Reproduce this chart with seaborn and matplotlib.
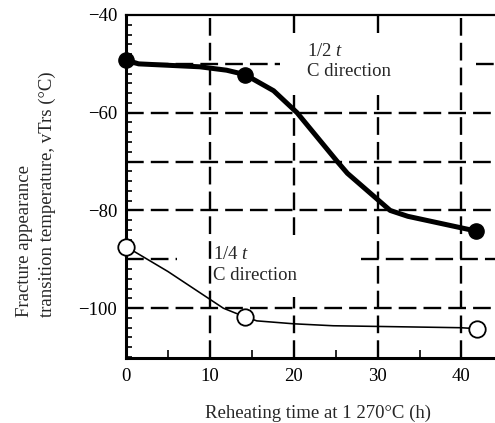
import numpy as np
import pandas as pd
import matplotlib
matplotlib.use("Agg")
import matplotlib.pyplot as plt
import seaborn as sns

# --- DATA ---
half_t_x = [0, 1.5, 8.8, 12.0, 14.2, 17.6, 20.4, 25.2, 26.4, 31.5, 33.6, 41.7]
half_t_y = [-49.2, -50.0, -50.6, -51.3, -52.2, -55.5, -60.0, -70.0, -72.4, -80.0, -81.2, -84.2]
half_t_mark_x = [0, 14.2, 41.7]
half_t_mark_y = [-49.2, -52.2, -84.2]

quarter_t_x = [0, 5.0, 11.6, 14.2, 15.6, 20.0, 24.7, 39.9, 41.8]
quarter_t_y = [-87.4, -92.5, -100.0, -101.8, -102.6, -103.2, -103.6, -104.0, -104.2]
quarter_t_mark_x = [0, 14.2, 41.8]
quarter_t_mark_y = [-87.4, -101.8, -104.2]

x_major = [0, 10, 20, 30, 40]
x_minor = [5, 15, 25, 35]
y_major = [-40, -60, -80, -100]

# dashed grid pieces (value, from, to) - gaps are left around the labels
h_grid = [(-50, 0, 18.4), (-50, 41.7, 44), (-60, 0, 44), (-70, 0, 44),
          (-80, 0, 44), (-90, 0, 6.1), (-90, 28, 44), (-100, 0, 44)]
v_grid = [(10, -110.2, -40), (20, -110.2, -97.8), (20, -85, -56.4),
          (20, -43.7, -40), (30, -110.2, -56.4), (30, -43.7, -40),
          (40, -110.2, -40)]

FS = 13.5
DASH = (0, (7.5, 3))

sns.set_theme(style="ticks")
plt.rcParams["font.family"] = ["Liberation Serif", "DejaVu Serif"]
plt.rcParams["mathtext.fontset"] = "custom"
plt.rcParams["mathtext.rm"] = "Liberation Serif"
plt.rcParams["mathtext.it"] = "Liberation Serif:italic"

fig = plt.figure(figsize=(4.95, 4.23), dpi=100)
fig.patch.set_facecolor("white")
ax = fig.add_axes([126 / 495, 1 - 358 / 423, 369 / 495, 343 / 423])
ax.set_facecolor("white")

# grid
for yv, x0, x1 in h_grid:
    ax.plot([x0, x1], [yv, yv], color="black", lw=1.7, linestyle=DASH, zorder=1)
for xv, y0, y1 in v_grid:
    ax.plot([xv, xv], [y0, y1], color="black", lw=1.7, linestyle=DASH, zorder=1)

df_half = pd.DataFrame({"x": half_t_x, "y": half_t_y})
df_quarter = pd.DataFrame({"x": quarter_t_x, "y": quarter_t_y})

sns.lineplot(data=df_half, x="x", y="y", ax=ax, color="black", lw=3.6, zorder=3)
sns.lineplot(data=df_quarter, x="x", y="y", ax=ax, color="black", lw=1.15, zorder=3)

sns.scatterplot(x=half_t_mark_x, y=half_t_mark_y, ax=ax, color="black", s=120,
                edgecolor="black", linewidth=1, zorder=4, clip_on=False)
sns.scatterplot(x=quarter_t_mark_x, y=quarter_t_mark_y, ax=ax, color="white", s=140,
                edgecolor="black", linewidth=1.3, zorder=4, clip_on=False)

ax.text(21.6, -47.4, "1/2 $t$", fontsize=FS, ha="left", va="center")
ax.text(21.6, -51.6, "C direction", fontsize=FS, ha="left", va="center")
ax.text(10.4, -89.0, "1/4 $t$", fontsize=FS, ha="left", va="center")
ax.text(10.4, -93.4, "C direction", fontsize=FS, ha="left", va="center")

ax.set_xlim(0, 44)
ax.set_ylim(-110.2, -40)
ax.set_xticks(x_major)
ax.set_xticks(x_minor, minor=True)
ax.set_yticks(y_major)
ax.set_yticks(np.arange(-110, -39, 2), minor=True)
ax.tick_params(axis="both", which="major", direction="in", length=0,
               labelsize=FS, colors="black")
ax.tick_params(axis="y", which="major", pad=6.5)
ax.tick_params(axis="x", which="major", pad=7)
ax.tick_params(axis="y", which="minor", direction="in", length=4.3, width=1.4)
ax.tick_params(axis="x", which="minor", direction="in", length=5.8, width=1.4)
ax.set_xlabel("")
ax.set_ylabel("")

for side in ["left", "bottom"]:
    ax.spines[side].set_linewidth(2.2)
    ax.spines[side].set_color("black")
ax.spines["top"].set_linewidth(1.6)
ax.spines["top"].set_color("black")
ax.spines["top"].set_visible(True)
ax.spines["right"].set_visible(False)

fig.text(318 / 495, 1 - 413 / 423, "Reheating time at 1 270\u00b0C (h)",
         fontsize=FS, ha="center", va="center")
fig.text(36 / 495, 1 - 317 / 423,
         "Fracture appearance\ntransition temperature, vTrs (\u00b0C)",
         fontsize=FS, rotation=90, ha="center", va="bottom",
         multialignment="left", linespacing=1.4)

fig.savefig("out.png", dpi=100, facecolor="white")
